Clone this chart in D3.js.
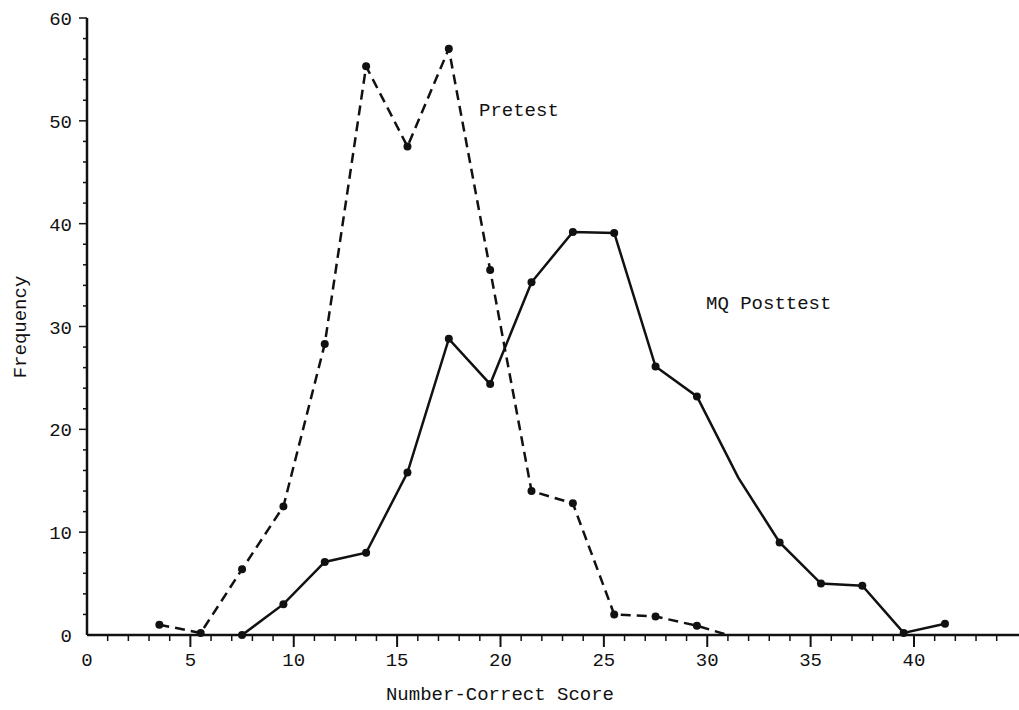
<!DOCTYPE html>
<html><head><meta charset="utf-8">
<script src="https://cdn.jsdelivr.net/npm/d3@7"></script>
<style>body{margin:0;background:#fff}text{font-family:"Liberation Mono",monospace;fill:#111}</style>
</head><body><div id="chart"></div>
<script>
var w = 1019, h = 710;
var preX = [3.5, 5.5, 7.5, 9.5, 11.5, 13.5, 15.5, 17.5, 19.5, 21.5, 23.5, 25.5, 27.5, 29.5, 31];
var preY = [1, 0.2, 6.4, 12.5, 28.3, 55.3, 47.5, 57, 35.5, 14, 12.8, 2, 1.8, 0.9, 0];
var postX = [7.5, 9.5, 11.5, 13.5, 15.5, 17.5, 19.5, 21.5, 23.5, 25.5, 27.5, 29.5, 31.5, 33.5, 35.5, 37.5, 39.5, 41.5];
var postY = [0, 3, 7.1, 8, 15.8, 28.8, 24.4, 34.3, 39.2, 39.1, 26.1, 23.2, 15.3, 9, 5, 4.8, 0.2, 1.1];
var xTicks = [0, 5, 10, 15, 20, 25, 30, 35, 40];
var yTicks = [0, 10, 20, 30, 40, 50, 60];

var x = d3.scaleLinear().domain([0, 40]).range([87, 914]);
var y = d3.scaleLinear().domain([0, 60]).range([635, 18]);

var svg = d3.select("#chart").append("svg").attr("width", w).attr("height", h);

// axes
svg.append("line").attr("x1", x(0)).attr("x2", 1019).attr("y1", y(0)).attr("y2", y(0))
   .attr("stroke", "#111").attr("stroke-width", 2.5);
svg.append("line").attr("x1", x(0)).attr("x2", x(0)).attr("y1", y(0)).attr("y2", y(60))
   .attr("stroke", "#111").attr("stroke-width", 2.5);

var minorX = d3.range(1, 45);
svg.selectAll(".mx").data(minorX).enter().append("line")
   .attr("x1", d => x(d)).attr("x2", d => x(d))
   .attr("y1", y(0)).attr("y2", d => y(0) + (d % 5 == 0 ? 12 : 6))
   .attr("stroke", "#111").attr("stroke-width", d => d % 5 == 0 ? 2 : 1.5);
svg.selectAll(".xl").data(xTicks).enter().append("text")
   .attr("x", d => x(d)).attr("y", 666).attr("text-anchor", "middle")
   .attr("font-size", 19).text(d => d);

var minorY = d3.range(2, 61, 2);
svg.selectAll(".my").data(minorY).enter().append("line")
   .attr("x1", x(0)).attr("x2", d => x(0) - (d % 10 == 0 ? 8 : 4))
   .attr("y1", d => y(d)).attr("y2", d => y(d))
   .attr("stroke", "#111").attr("stroke-width", 1.5);
svg.selectAll(".yl").data(yTicks).enter().append("text")
   .attr("x", 72).attr("y", d => y(d) + 7).attr("text-anchor", "end")
   .attr("font-size", 19).text(d => d);

svg.append("text").attr("x", 500).attr("y", 700).attr("text-anchor", "middle")
   .attr("font-size", 19).text("Number-Correct Score");
svg.append("text").attr("transform", "translate(26,327) rotate(-90)")
   .attr("text-anchor", "middle").attr("font-size", 19).text("Frequency");

var line = d3.line().x(d => x(d[0])).y(d => y(d[1]));
var pre = d3.zip(preX, preY), post = d3.zip(postX, postY);

svg.append("path").datum(pre).attr("d", line).attr("fill", "none")
   .attr("stroke", "#111").attr("stroke-width", 2.5).attr("stroke-dasharray", "10,6");
svg.append("path").datum(post).attr("d", line).attr("fill", "none")
   .attr("stroke", "#111").attr("stroke-width", 2.5);

svg.selectAll(".pd").data(pre.slice(0, -1)).enter().append("circle")
   .attr("cx", d => x(d[0])).attr("cy", d => y(d[1])).attr("r", 4).attr("fill", "#111");
svg.selectAll(".qd").data(post.filter(d => d[0] != 31.5)).enter().append("circle")
   .attr("cx", d => x(d[0])).attr("cy", d => y(d[1])).attr("r", 4).attr("fill", "#111");

svg.append("text").attr("x", 479).attr("y", 116).attr("font-size", 19).text("Pretest");
svg.append("text").attr("x", 706).attr("y", 309).attr("font-size", 19).text("MQ Posttest");
</script></body></html>
